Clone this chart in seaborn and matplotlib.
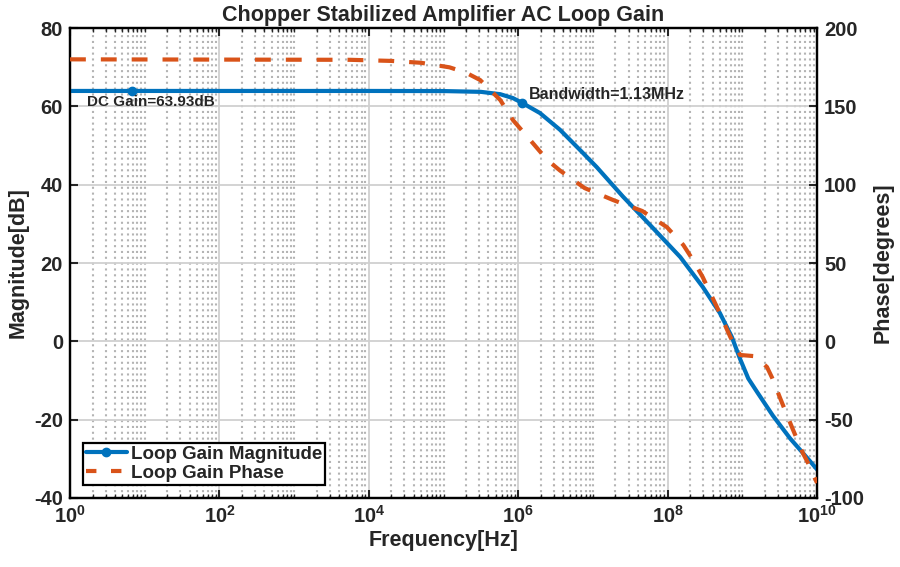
import numpy as np
import pandas as pd
import matplotlib
matplotlib.use("Agg")
import matplotlib.pyplot as plt
import matplotlib.ticker as mticker
from matplotlib.lines import Line2D
import seaborn as sns

# values (log10 of frequency in Hz)
mag_logf = [0.0, 4.0, 5.0, 5.5, 5.76, 5.93, 6.06, 6.29, 6.56, 6.83, 7.05, 7.40, 7.8, 8.17,
            8.47, 8.70, 8.86, 8.97, 9.08, 9.20, 9.41, 9.64, 9.87, 10.0]
mag_db = [63.93, 63.93, 63.9, 63.7, 63.1, 62.1, 60.8, 58.3, 54.0, 48.8, 44.5, 37.0, 29.0, 21.5,
          13.9, 7.2, 1.1, -4.5, -9.5, -13.0, -19.0, -24.8, -29.8, -32.7]

phase_logf = [0.0, 3.75, 4.3, 4.7, 5.08, 5.3, 5.49, 5.76, 5.93, 6.16, 6.39, 6.56, 6.89, 7.27,
              7.66, 7.99, 8.21, 8.34, 8.47, 8.66, 8.84, 8.97, 9.17, 9.33, 9.40, 9.50, 9.57,
              9.68, 9.81, 9.88, 10.0]
phase_deg = [180, 179.7, 179, 177.8, 174.9, 171.5, 166.8, 154, 141.2, 128.5, 115.7, 109, 97.8, 90.2,
             83.2, 72.9, 61.5, 51.9, 41.0, 21.9, 2.7, -8.7, -9.5, -16.4, -23.4, -35.5, -43.8,
             -56.6, -71.3, -77.7, -90.4]

marker_f = [6.8, 1.13e6]
marker_db = [63.93, 60.93]

BLUE = "#0072BD"
ORANGE = "#D95319"

sns.set_style("ticks")
plt.rcParams["font.family"] = ["Liberation Sans", "DejaVu Sans"]
plt.rcParams["font.weight"] = "bold"
plt.rcParams["axes.unicode_minus"] = False
plt.rcParams["mathtext.fontset"] = "custom"
plt.rcParams["mathtext.rm"] = "Liberation Sans:bold"
plt.rcParams["mathtext.it"] = "Liberation Sans:bold"
plt.rcParams["mathtext.bf"] = "Liberation Sans:bold"

mag_df = pd.DataFrame({"f": 10 ** np.array(mag_logf), "db": mag_db})
phase_df = pd.DataFrame({"f": 10 ** np.array(phase_logf), "deg": phase_deg})

fig = plt.figure(figsize=(9, 5.67), dpi=100)
ax = fig.add_axes([0.0778, 0.1217, 0.83, 0.8289])
ax2 = ax.twinx()

sns.lineplot(data=mag_df, x="f", y="db", ax=ax, color=BLUE, linewidth=3, zorder=3)
ax.plot(marker_f, marker_db, linestyle="none", marker="o", markersize=6, color=BLUE, zorder=4)
sns.lineplot(data=phase_df, x="f", y="deg", ax=ax2, color=ORANGE, linewidth=3,
             linestyle=(0, (3.8, 3.6)), zorder=3)

ax.set_xscale("log")
ax.set_xlim(1, 1e10)
ax.set_ylim(-40, 80)
ax.set_yticks(range(-40, 81, 20))
ax2.set_ylim(-100, 200)
ax2.set_yticks(range(-100, 201, 50))

ax.xaxis.set_major_locator(mticker.FixedLocator([10.0 ** k for k in range(0, 11, 2)]))
minor = [m * 10.0 ** k for k in range(0, 10) for m in range(1, 10) if not (m == 1 and k % 2 == 0)]
ax.xaxis.set_minor_locator(mticker.FixedLocator(minor))
ax.xaxis.set_minor_formatter(mticker.NullFormatter())

ax.grid(True, which="major", color="#d0d0d0", linewidth=1.3, linestyle="-")
ax.grid(True, which="minor", axis="x", color="#b4b4b4", linewidth=1.5, linestyle=(0, (1.0, 1.8)))
ax.set_axisbelow(True)

ax.tick_params(axis="x", which="both", direction="in", top=True, labelsize=14.5, pad=5)
ax.tick_params(axis="x", which="major", length=6, width=1.5)
ax.tick_params(axis="x", which="minor", length=3, width=1.0)
ax.tick_params(axis="y", direction="in", length=6, width=1.5, labelsize=14.5, right=False, pad=5)
ax2.tick_params(axis="y", direction="in", length=6, width=1.5, labelsize=14.5, pad=5)

for sp in list(ax.spines.values()) + list(ax2.spines.values()):
    sp.set_linewidth(1.6)
    sp.set_color("black")

ax.set_xlabel("Frequency[Hz]", fontsize=15.5, fontweight="bold", labelpad=2)
ax.set_ylabel("Magnitude[dB]", fontsize=15.5, fontweight="bold", labelpad=4)
ax2.set_ylabel("Phase[degrees]", fontsize=15.5, fontweight="bold", labelpad=6)
ax.set_title("Chopper Stabilized Amplifier AC Loop Gain", fontsize=15.5, fontweight="bold", pad=5)

ax.text(1.7, 61.2, "DC Gain=63.93dB", fontsize=11, fontweight="bold", va="center", ha="left", zorder=5)
ax.text(1.4e6, 62.9, "Bandwidth=1.13MHz", fontsize=11.5, fontweight="bold", va="center", ha="left", zorder=5)

handles = [
    Line2D([], [], color=BLUE, linewidth=3, marker="o", markersize=6),
    Line2D([], [], color=ORANGE, linewidth=3, linestyle=(0, (2.5, 3.5))),
]
leg = ax2.legend(handles, ["Loop Gain Magnitude", "Loop Gain Phase"], loc="lower left",
                 bbox_to_anchor=(0.012, 0.02), fontsize=13.5, frameon=True, fancybox=False,
                 handlelength=2.2, handletextpad=0.2, borderpad=0.15, labelspacing=0.1,
                 borderaxespad=0.2)
leg.get_frame().set_edgecolor("black")
leg.get_frame().set_linewidth(1.6)
leg.get_frame().set_alpha(1)

fig.savefig("out.png", dpi=100)
